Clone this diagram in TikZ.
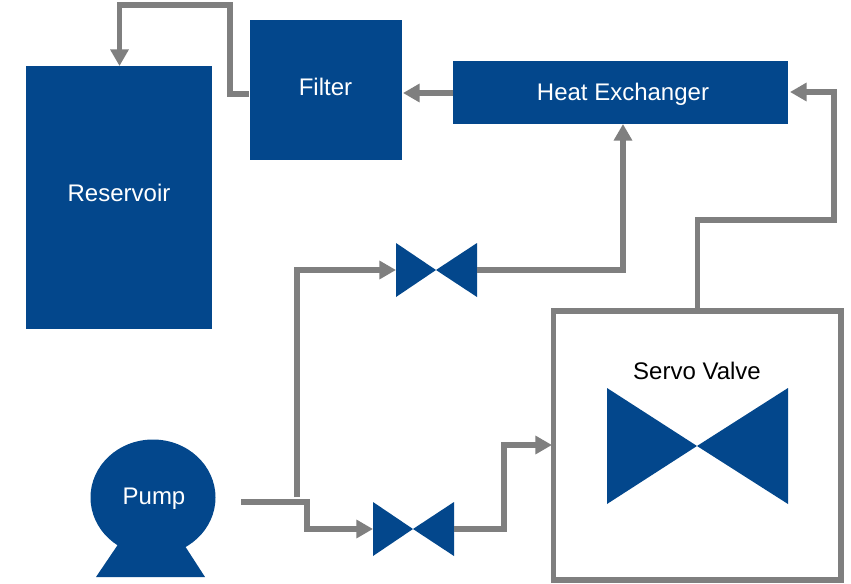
\documentclass[tikz,border=0pt]{standalone}
\usepackage{fontspec}
\setmainfont{Liberation Sans}
\usetikzlibrary{arrows.meta}
\definecolor{bl}{HTML}{03478C}
\definecolor{gr}{HTML}{7F7F7F}
\tikzset{x=0.75pt,y=-0.75pt,
 lbl/.style={font=\fontsize{18pt}{20pt}\selectfont,inner sep=0},
 whitelbl/.style={lbl,text=white},
 pipe/.style={draw=gr,line width=4.4pt,miter limit=10,-{Triangle[length=12.4pt,width=13.2pt]}},
 }
\begin{document}
\begin{tikzpicture}
\useasboundingbox (0,0) rectangle (851,583);
\fill[white] (0,0) rectangle (851,583);
% boxes
\fill[bl] (26,66) rectangle (212,329);
\fill[bl] (250,20) rectangle (402,160);
\fill[bl] (453,61) rectangle (788,124);
\node[whitelbl] (res) at (119,193) {Reservoir};
\node[whitelbl] (fil) at (325.5,87) {Filter};
\node[whitelbl] (hx) at (623,94) {Heat Exchanger};
% servo
\draw[draw=gr,line width=4.4pt] (553.5,311) rectangle (841,580);
\node[lbl] (sv) at (697,371) {Servo Valve};
\fill[bl] (607,388) -- (697,446) -- (788,388) -- (788,504) -- (697,446) -- (607,504) -- cycle;
% valves
\fill[bl] (396,243) -- (436,270) -- (477,243) -- (477,297) -- (436,270) -- (396,297) -- cycle;
\fill[bl] (373,502) -- (413,529) -- (454,502) -- (454,556) -- (413,529) -- (373,556) -- cycle;
% pump
\fill[bl] (96,577) -- (119,543) -- (183,543) -- (205,577) -- cycle;
\fill[bl] (153,497.5) ellipse (62.5 and 58);
\node[whitelbl] (pu) at (154,499) {Pump};
% pipes
\draw[pipe] (249,94) -- (230,94) -- (230,5) -- (119.5,5) -- (119.5,66);
\draw[pipe] (453,93) -- (403,93);
\draw[pipe] (477,270) -- (623,270) -- (623,124);
\draw[pipe] (697.5,309) -- (697.5,220) -- (834,220) -- (834,92) -- (790,92);
\draw[pipe] (297,497) -- (297,270) -- (396,270);
\draw[pipe] (241,502) -- (307,502) -- (307,529) -- (373,529);
\draw[pipe] (454,529) -- (504,529) -- (504,445) -- (552,445);
\end{tikzpicture}
\end{document}
